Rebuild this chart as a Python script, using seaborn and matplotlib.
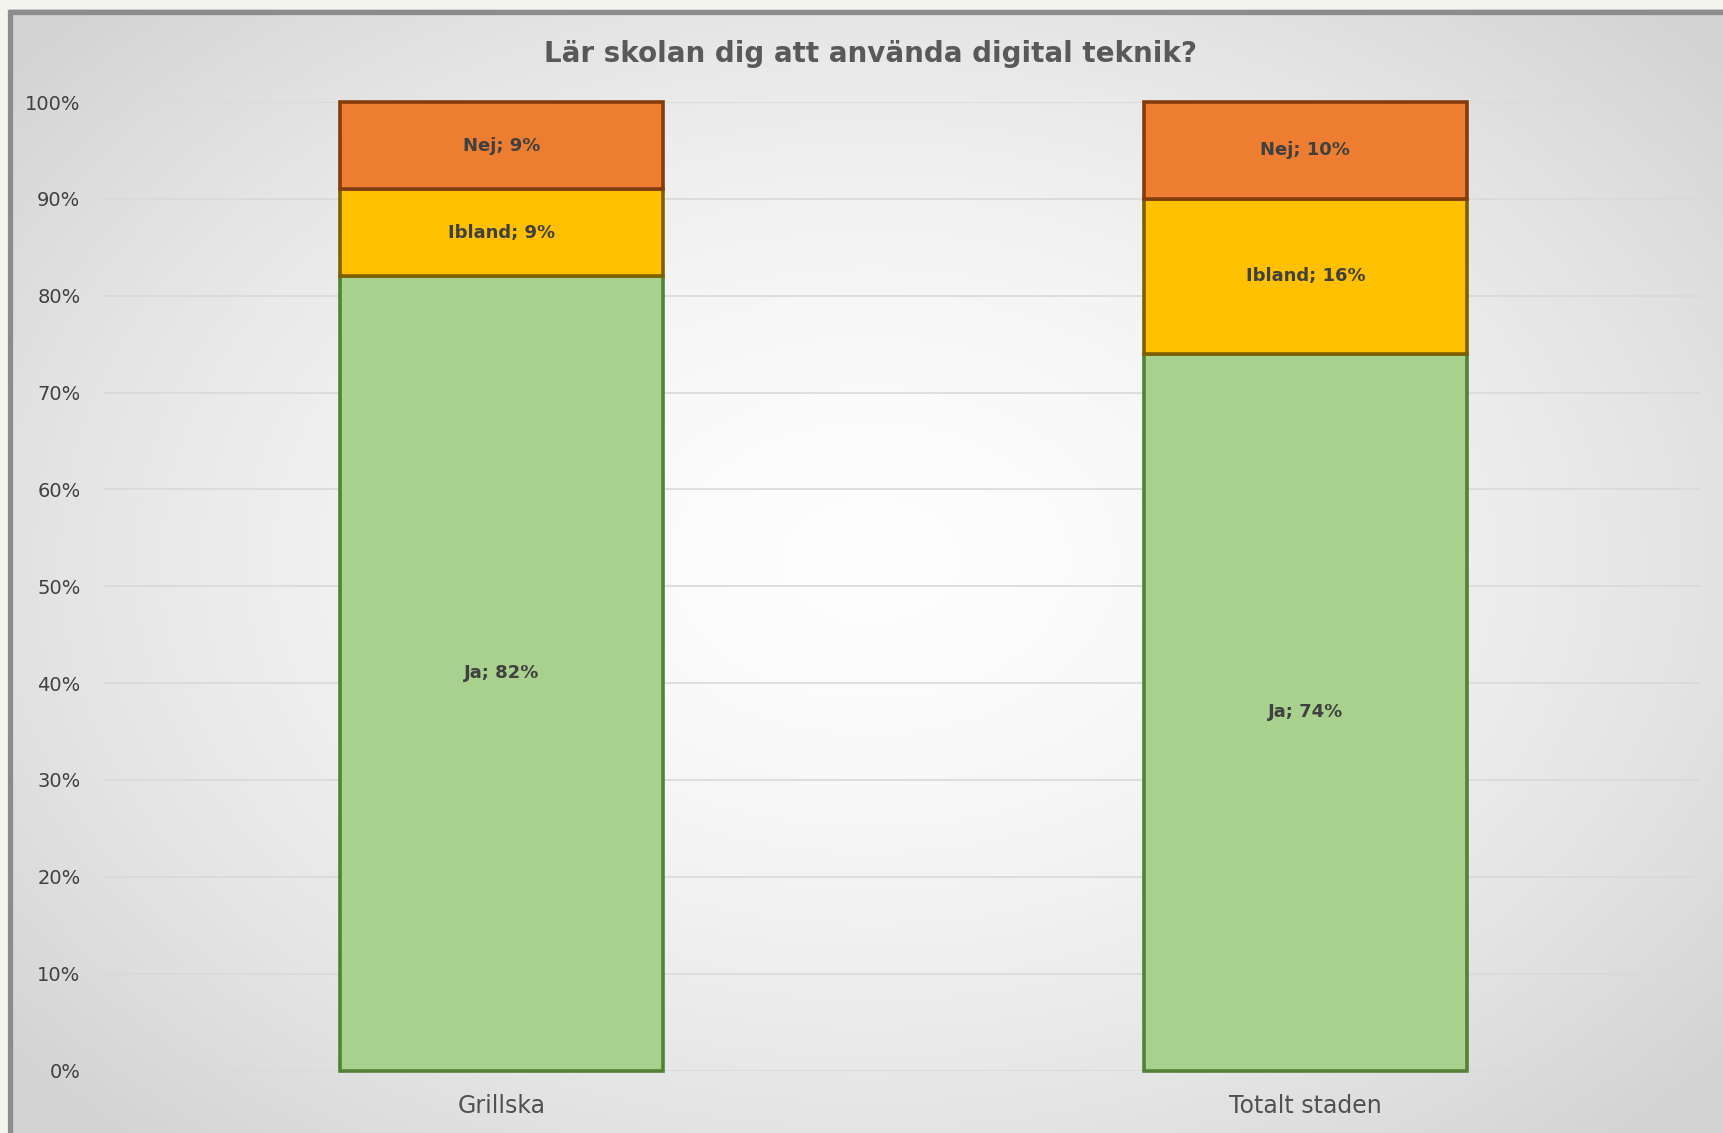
import numpy as np
import pandas as pd
import matplotlib
matplotlib.use('Agg')
import matplotlib.pyplot as plt
from matplotlib.patches import Rectangle
import seaborn as sns

# Data
grupper = ["Grillska", "Totalt staden"]
svar = ["Ja", "Ibland", "Nej"]
ja = [82, 74]
ibland = [9, 16]
nej = [9, 10]
titel = "Lär skolan dig att använda digital teknik?"

fill_colors = {"Ja": "#A9D18E", "Ibland": "#FFC000", "Nej": "#ED7D31"}
edge_colors = {"Ja": "#538135", "Ibland": "#7F6000", "Nej": "#843C0C"}

df = pd.DataFrame({"grupp": grupper, "Ja": ja, "Ibland": ibland, "Nej": nej})

sns.set_style("white")
plt.rcParams['font.family'] = ['DejaVu Sans']

W, H = 1723, 1133
fig = plt.figure(figsize=(W / 100, H / 100), dpi=100)

# radial gradient background with frame
yy, xx = np.mgrid[0:H, 0:W]
r = np.sqrt(((xx - 870) / 1000.0) ** 2 + ((yy - 560) / 700.0) ** 2)
shade = np.clip(0.995 - 0.14 * r ** 1.6, 0.83, 1.0)
bg = np.dstack([shade, shade, shade])
bg[:9, :, :] = [0.957, 0.957, 0.941]
bg[:, :9, :] = [0.957, 0.957, 0.941]
fig.figimage(bg[::-1], xo=0, yo=0, origin='lower', zorder=-10)
fig.patches.append(Rectangle((9.5 / W, -0.05), 1.1, 1 - 11.5 / H + 0.05,
                             transform=fig.transFigure, fill=False,
                             edgecolor="#8c8c8c", linewidth=3.8, zorder=-5))

ax = fig.add_axes([104 / W, 1 - 1070.5 / H, (1700 - 104) / W, (1070.5 - 102) / H])
ax.patch.set_alpha(0)

bottom = np.zeros(len(grupper))
for s in svar:
    sns.barplot(data=df, x="grupp", y=s, order=grupper, color=fill_colors[s],
                saturation=1, width=0.402, edgecolor=edge_colors[s],
                linewidth=2.6, bottom=bottom.copy(), ax=ax, zorder=3)
    for i, g in enumerate(grupper):
        v = df.loc[i, s]
        ax.text(i, bottom[i] + v / 2, f"{s}; {v}%", ha="center",
                va="center", fontsize=13, fontweight="bold", color="#404040",
                zorder=5)
    bottom += df[s].to_numpy()

for p in ax.patches:
    p.set_clip_on(False)

ax.set_xlim(-0.495, 1.491)
ax.set_ylim(0, 100)
ax.set_yticks(np.arange(0, 101, 10))
ax.set_yticklabels([f"{t}%" for t in range(0, 101, 10)], fontsize=14, color="#404040")
ax.set_xticks(range(len(grupper)))
ax.set_xticklabels(grupper, fontsize=17, color="#505050")
ax.tick_params(axis="y", length=0, pad=17)
ax.tick_params(axis="x", length=0, pad=17)
ax.set_xlabel("")
ax.set_ylabel("")
ax.grid(axis="y", color="#d9d9d9", linewidth=1.2, zorder=0)
ax.set_axisbelow(True)
for sp in ax.spines.values():
    sp.set_visible(False)

fig.text(871 / W, 1 - 54 / H, titel, ha="center", va="center",
         fontsize=20, fontweight="bold", color="#595959")

fig.savefig("out.png", dpi=100)
